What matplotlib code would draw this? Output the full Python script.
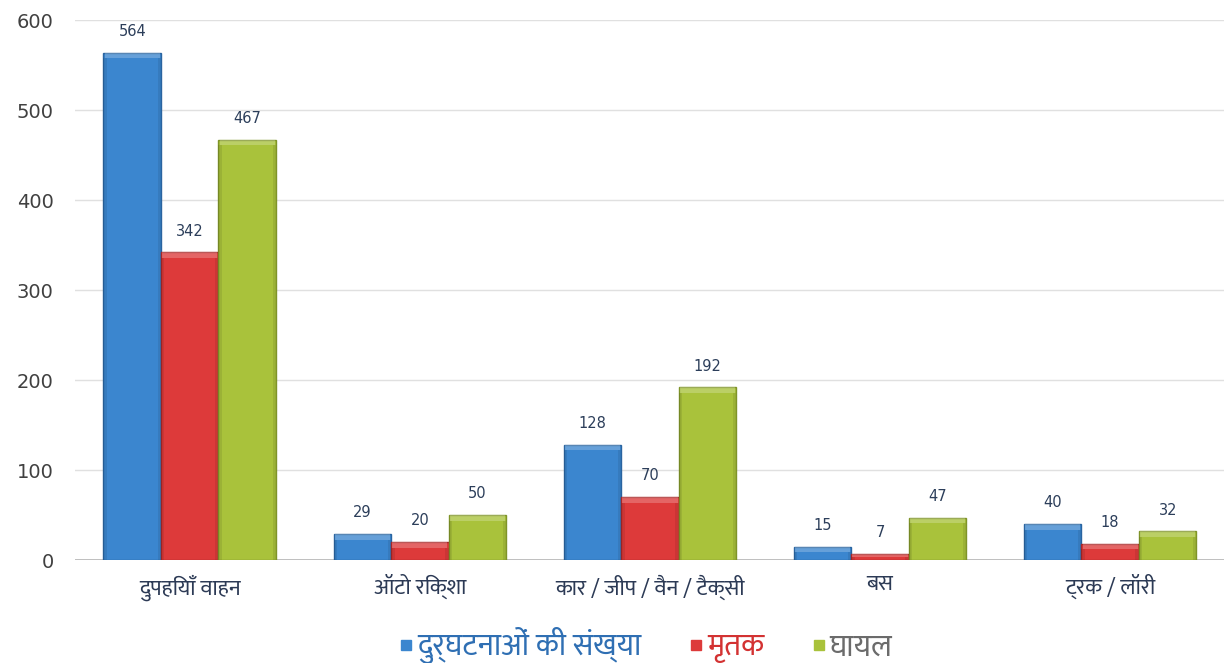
import numpy as np
import matplotlib.pyplot as plt
from matplotlib.patches import Rectangle
from matplotlib.lines import Line2D

# Vehicle-wise road accident figures
vehicles = ['दुपहियाँ वाहन', 'ऑटो रिक्शा', 'कार / जीप / वैन / टैक्सी', 'बस', 'ट्रक / लॉरी']
accidents = [564, 29, 128, 15, 40]
deaths = [342, 20, 70, 7, 18]
injured = [467, 50, 192, 47, 32]

series_names = ['दुर्घटनाओं की संख्या', 'मृतक', 'घायल']
colors = ['#3b86cf', '#dd3a3a', '#a9c23b']
edge_colors = ['#2a64a0', '#a82828', '#7f9428']
text_colors = ['#2f6fb3', '#d33232', '#6b6b6b']

hindi = ['Mukta', 'Khand', 'FreeSans', 'DejaVu Sans']

fig = plt.figure(figsize=(12.24, 6.63), dpi=100)
ax = fig.add_axes([0.061, 0.155, 0.94, 0.8145])

x = np.arange(len(vehicles))
w = 0.25
for i, vals in enumerate([accidents, deaths, injured]):
    pos = x + (i - 1) * w
    bars = ax.bar(pos, vals, width=w, color=colors[i], edgecolor=edge_colors[i],
                  linewidth=1.0, zorder=3)
    for b, v in zip(bars, vals):
        # soft highlight along the top of each bar, darker strip down the sides
        hh = min(v * 0.5, 6)
        ax.add_patch(Rectangle((b.get_x() + 0.02 * w, v - hh), w * 0.96, hh,
                               facecolor='white', alpha=0.22, lw=0, zorder=4))
        ax.add_patch(Rectangle((b.get_x(), 0), w * 0.06, v - hh,
                               facecolor='black', alpha=0.08, lw=0, zorder=4))
        ax.add_patch(Rectangle((b.get_x() + w * 0.94, 0), w * 0.06, v - hh,
                               facecolor='black', alpha=0.08, lw=0, zorder=4))
        ax.annotate(str(v), (b.get_x() + w / 2, v), xytext=(0, 10),
                    textcoords='offset points', ha='center', va='bottom',
                    fontsize=10.5, color='#2c3e5a', zorder=5)

ax.set_xlim(-0.5, 4.5)
ax.set_ylim(0, 600)
ax.set_yticks(range(0, 601, 100))
ax.yaxis.grid(True, color='#e0e0e0', linewidth=1.0, zorder=0)
ax.axhline(0, color='#b5b5b5', linewidth=1.2, zorder=2)
for s in ax.spines.values():
    s.set_visible(False)
ax.tick_params(axis='y', length=0, pad=15, labelsize=14, labelcolor='#404040')
ax.tick_params(axis='x', length=0, pad=10)
ax.set_xticks(x)
ax.set_xticklabels(vehicles, family=hindi, fontsize=16, color='#2c3a55')

handles = [Line2D([], [], marker='s', linestyle='none', markersize=7,
                  markerfacecolor=c, markeredgecolor=c) for c in colors]
leg = fig.legend(handles, series_names, loc='center', bbox_to_anchor=(0.528, 0.026),
                 ncol=3, frameon=False, prop={'family': hindi, 'size': 22},
                 handlelength=0.4, handletextpad=0.15, columnspacing=1.6)
for t, c in zip(leg.get_texts(), text_colors):
    t.set_color(c)

fig.savefig('out.png', dpi=100)
